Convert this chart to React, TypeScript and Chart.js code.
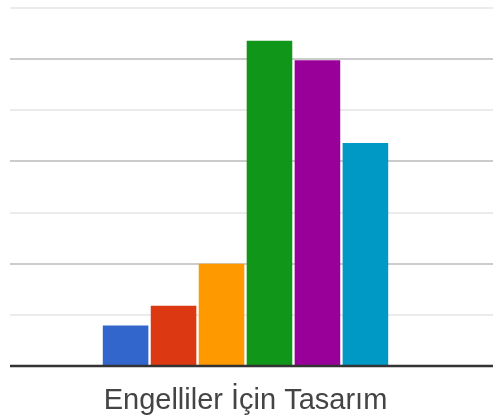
import React, { useEffect, useRef } from "react";
import { Chart, registerables } from "chart.js";

Chart.register(...registerables);

const categories = ["Engelliler İçin Tasarım"];
const seriesNames = ["1", "2", "3", "4", "5", "6"];
const seriesValues = [3.95, 5.9, 10, 31.8, 29.9, 21.8];
const seriesColors = ["#3366cc", "#dc3912", "#ff9900", "#109618", "#990099", "#0099c6"];
const yMin = 0;
const yMax = 35;
const yStep = 5;

const gridPlugin = {
  id: "gridPlugin",
  beforeDatasetsDraw(chart: any) {
    const { ctx, chartArea, scales } = chart;
    const y = scales.y;
    ctx.save();
    for (const t of y.ticks) {
      if (t.value === 0) continue;
      const py = Math.round(y.getPixelForValue(t.value));
      ctx.strokeStyle = t.value % 10 === 0 ? "#cccccc" : "#ebebeb";
      ctx.lineWidth = 2;
      ctx.beginPath();
      ctx.moveTo(chartArea.left, py);
      ctx.lineTo(chart.width, py);
      ctx.stroke();
    }
    ctx.restore();
  },
  afterDatasetsDraw(chart: any) {
    const { ctx, chartArea, scales } = chart;
    const py = scales.y.getPixelForValue(0);
    ctx.save();
    ctx.strokeStyle = "#333333";
    ctx.lineWidth = 2.5;
    ctx.beginPath();
    ctx.moveTo(chartArea.left, py);
    ctx.lineTo(chart.width, py);
    ctx.stroke();
    ctx.restore();
  },
};

export default function App() {
  const ref = useRef<HTMLCanvasElement>(null);
  useEffect(() => {
    if (!ref.current) return;
    const chart = new Chart(ref.current, {
      type: "bar",
      data: {
        labels: categories,
        datasets: seriesNames.map((name, i) => ({
          label: name,
          data: [seriesValues[i]],
          backgroundColor: seriesColors[i],
          borderWidth: 0,
          categoryPercentage: 0.611,
          barPercentage: 0.95,
        })),
      },
      options: {
        animation: false,
        responsive: false,
        maintainAspectRatio: false,
        layout: { padding: { left: 10, right: 12, top: 8, bottom: 0 } },
        plugins: { legend: { display: false }, tooltip: { enabled: false } },
        scales: {
          x: {
            grid: { display: false, drawTicks: false },
            border: { display: false },
            afterFit(scale: any) {
              scale.height = 52;
            },
            ticks: {
              color: "#444444",
              font: { family: "'Liberation Sans', Arial, sans-serif", size: 29 },
              padding: 18,
            },
          },
          y: {
            display: false,
            min: yMin,
            max: yMax,
            ticks: { stepSize: yStep },
          },
        },
      },
      plugins: [gridPlugin],
    });
    return () => chart.destroy();
  }, []);
  return (
    <div style={{ position: "fixed", left: 0, top: 0, width: 493, height: 418, background: "#fff" }}>
      <canvas ref={ref} width={493} height={418} style={{ width: 493, height: 418 }} />
    </div>
  );
}
